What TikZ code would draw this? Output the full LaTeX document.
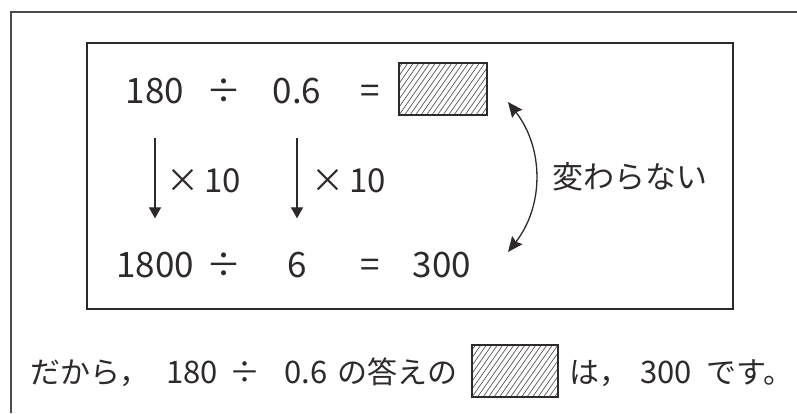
\documentclass[tikz,border=0pt]{standalone}
\usepackage{fontspec}
\setmainfont{Noto Sans CJK JP}
\usetikzlibrary{arrows.meta,positioning}
\definecolor{ink}{HTML}{2E2A29}

\begin{document}
\begin{tikzpicture}[
    x=1pt, y=-1pt,
    num/.style={font=\fontsize{35}{40}\selectfont, text=ink, anchor=base, inner sep=0pt},
    times/.style={font=\fontsize{33}{38}\selectfont, text=ink, anchor=base west, inner sep=0pt},
    jp/.style={font=\fontsize{31}{36}\selectfont, text=ink, inner sep=0pt},
    line/.style={font=\fontsize{30}{36}\selectfont, text=ink, anchor=base west, inner sep=0pt},
    digits/.style={font=\fontsize{31}{36}\selectfont, text=ink, anchor=base west, inner sep=0pt},
    hatch/.style={rectangle, draw=ink, line width=1.2pt,
        path picture={\foreach \i in {-8,...,16}
            \draw[ink!80, line width=0.7pt] ([xshift=\i*5.5pt]path picture bounding box.south west) -- ++(55:80pt);}},
    panel/.style={rectangle, draw=ink, line width=1.6pt, minimum width=646pt, minimum height=266pt},
    arrow/.style={-{Triangle[length=11pt,width=12pt]}, draw=ink, line width=1.2pt},
    swap/.style={{Stealth[length=15pt,width=13pt,inset=2pt]}-{Stealth[length=15pt,width=13pt,inset=2pt]}, draw=ink, line width=1.3pt}
]

\useasboundingbox (0,0) rectangle (797,413);

% Outer frame (cut off at right and bottom)
\draw[ink!85, line width=1.6pt] (11,413) -- (11,12) -- (797,12);

% Inner panel
\node[panel] (box) at (410,176) {};

% Top row
\node[num] (a1) at (155,103) {180};
\node[num] (d1) at (224,103) {÷};
\node[num] (b1) at (297,103) {0.6};
\node[num] (e1) at (370,103) {=};
\node[hatch, minimum width=88pt, minimum height=52pt] (blank) at (443,89) {};

% Bottom row
\node[num] (a2) at (155,277) {1800};
\node[num] (d2) at (224,277) {÷};
\node[num] (b2) at (297,277) {6};
\node[num] (e2) at (370,277) {=};
\node[num] (c2) at (442,277) {300};

% Multiply arrows
\draw[arrow, shorten <=34pt, shorten >=33pt] (a1) -- (a2);
\draw[arrow, shorten <=34pt, shorten >=33pt] (b1) -- (b2);
\node[times] (m1) at (166,192) {×\,10};
\node[times] (m2) at (311,192) {×\,10};

% Curved arrow
\coordinate (ctop) at (508,102);
\coordinate (cbot) at (508,252);
\draw[swap] (ctop) to[bend left=38] (cbot);
\node[jp, anchor=west] (same) at (552,177) {変わらない};

% Conclusion
\node[line] (so1) at (30,383) {だから，};
\node[digits] (n1) at (166,383) {180};
\node[digits] (n2) at (229,383) {÷};
\node[digits] (n3) at (284,383) {0.6};
\node[line] (so2) at (337,383) {の答えの};
\node[hatch, minimum width=86pt, minimum height=52pt] (blank2) at (515,371) {};
\node[line] (so3) at (569,383) {は，};
\node[digits] (ans) at (640,383) {300};
\node[line] (so4) at (706,383) {です。};

\end{tikzpicture}
\end{document}
